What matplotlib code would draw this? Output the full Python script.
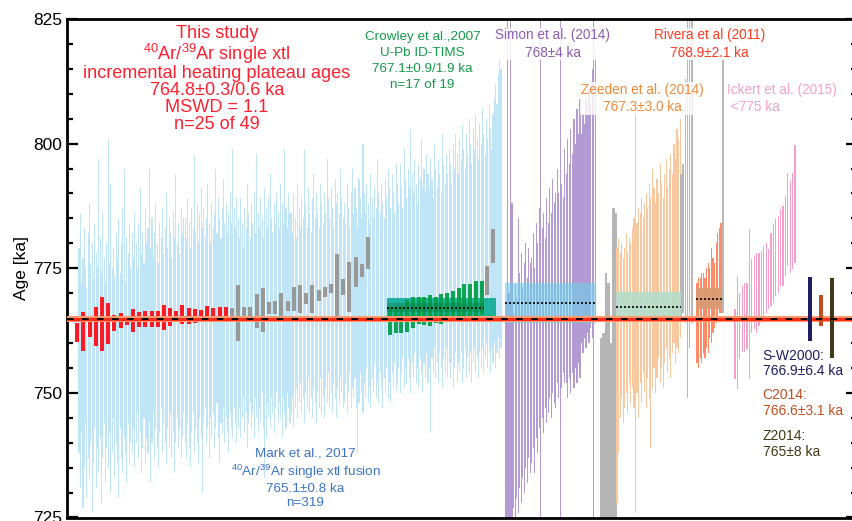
import matplotlib.pyplot as plt
import numpy as np
from matplotlib.ticker import MultipleLocator

plt.rcParams['font.family'] = ['Liberation Sans', 'DejaVu Sans']
plt.rcParams['mathtext.fontset'] = 'custom'
plt.rcParams['mathtext.rm'] = 'Liberation Sans'
plt.rcParams['mathtext.default'] = 'regular'

# --- data (ka) ---
# Mark et al. 2017 single crystal fusion ages, high / low ends of 2 sigma bars
mark_hi = [779, 786, 772, 777, 783, 775, 771, 782, 788, 776, 780, 773, 784, 778, 775, 797, 781, 774, 786, 777,
           772, 780, 801, 776, 792, 775, 779, 773, 782, 777, 785, 774, 780, 787, 795, 772, 781, 778, 784, 775,
           782, 777, 786, 780, 775, 784, 791, 778, 782, 776, 787, 780, 783, 795, 779, 785, 777, 782, 788, 780,
           776, 784, 781, 787, 778, 783, 790, 779, 785, 782, 777, 786, 781, 794, 780, 784, 778, 787, 782, 785,
           785, 781, 789, 784, 779, 787, 783, 798, 782, 788, 780, 786, 791, 783, 787, 781, 785, 792, 784, 780,
           788, 783, 786, 795, 782, 789, 785, 781, 787, 793, 784, 788, 782, 786, 790, 784, 799, 787, 783, 789,
           785, 781, 789, 784, 779, 787, 783, 792, 786, 781, 788, 784, 790, 782, 798, 786, 783, 789, 785, 781,
           791, 787, 783, 789, 794, 785, 782, 788, 784, 790, 786, 783, 792, 788, 784, 799, 787, 783, 790, 786,
           786, 782, 790, 785, 781, 792, 787, 783, 789, 785, 799, 788, 783, 791, 786, 782, 789, 794, 785, 790,
           786, 783, 792, 788, 784, 790, 786, 797, 789, 785, 791, 787, 783, 793, 788, 790, 786, 795, 789, 785,
           788, 784, 792, 787, 783, 790, 795, 786, 791, 787, 783, 793, 789, 785, 800, 790, 786, 792, 788, 784,
           794, 789, 785, 791, 787, 797, 790, 786, 792, 788, 785, 793, 789, 795, 791, 787, 794, 790, 786, 796,
           792, 788, 796, 791, 787, 799, 793, 789, 795, 791, 803, 794, 790, 797, 792, 788, 796, 793, 801, 791,
           795, 790, 798, 794, 791, 797, 793, 789, 800, 795, 791, 797, 794, 790, 802, 796, 792, 798, 794, 799,
           796, 792, 800, 795, 802, 798, 794, 801, 797, 804, 799, 795, 802, 798, 805, 800, 796, 803, 799, 806,
           801, 797, 804, 800, 807, 802, 798, 805, 801, 808, 803, 799, 806, 809, 812, 808, 814, 817, 815]
mark_lo = [738, 731, 742, 727, 735, 744, 729, 737, 733, 740, 726, 736, 743, 731, 739, 734, 741, 728, 737, 744,
           732, 739, 735, 742, 730, 738, 745, 733, 740, 736, 729, 743, 737, 734, 741, 738, 732, 744, 736, 740,
           738, 743, 735, 740, 746, 737, 742, 734, 739, 745, 736, 741, 738, 744, 732, 740, 746, 737, 743, 739,
           735, 742, 747, 738, 744, 740, 736, 743, 739, 746, 737, 742, 734, 740, 745, 739, 743, 737, 741, 746,
           740, 737, 744, 739, 735, 742, 746, 738, 743, 740, 736, 745, 741, 730, 744, 747, 740, 743, 737, 745,
           741, 746, 739, 743, 748, 741, 736, 744, 742, 747, 740, 745, 742, 738, 746, 743, 741, 747, 744, 740,
           743, 747, 741, 745, 749, 742, 746, 739, 744, 748, 743, 746, 741, 749, 745, 742, 747, 744, 750, 743,
           733, 741, 748, 745, 743, 749, 746, 742, 747, 750, 744, 748, 745, 741, 749, 746, 743, 750, 747, 744,
           746, 749, 743, 747, 751, 745, 748, 752, 746, 749, 744, 750, 747, 753, 746, 749, 745, 751, 748, 744,
           750, 747, 753, 746, 749, 745, 751, 748, 754, 747, 750, 746, 752, 749, 745, 751, 748, 753, 750, 747,
           748, 752, 746, 750, 754, 747, 751, 749, 753, 747, 738, 748, 754, 750, 746, 752, 749, 755, 748, 751,
           747, 753, 750, 756, 749, 752, 748, 754, 751, 747, 753, 750, 755, 749, 752, 748, 754, 751, 756, 750,
           752, 755, 750, 754, 757, 751, 755, 752, 757, 753, 750, 756, 753, 758, 752, 755, 751, 757, 754, 750,
           756, 753, 758, 752, 755, 742, 757, 754, 759, 753, 756, 752, 758, 755, 751, 757, 754, 759, 753, 756,
           753, 756, 751, 755, 758, 752, 756, 754, 758, 752, 755, 759, 753, 757, 754, 758, 752, 756, 759, 754,
           757, 753, 758, 755, 759, 754, 757, 760, 755, 758, 754, 759, 756, 760, 755, 758, 761, 757, 759]

# This study: first 25 accepted (red), rest rejected (gray)
study_hi = [764.0, 766.3, 765.0, 767.2, 769.3, 768.1, 765.7, 766.0, 765.5, 766.8, 766.3, 766.4, 766.5,
            766.5, 767.6, 767.0, 766.4, 767.7, 767.1, 766.9, 766.7, 767.5, 767.0, 767.2, 767.2,
            767.0, 771.7, 767.2, 767.2, 769.9, 771.0, 768.2, 768.5, 770.0, 768.5, 771.3, 771.7,
            770.0, 771.7, 770.7, 771.2, 771.8, 777.9, 772.9, 776.2, 777.3, 775.8, 781.3]
study_lo = [760.2, 758.5, 761.2, 759.5, 758.5, 759.9, 762.5, 763.0, 763.7, 762.2, 763.2, 763.2, 763.2,
            763.3, 762.7, 763.5, 764.5, 763.8, 763.8, 764.1, 764.3, 764.2, 765.1, 765.2, 765.2,
            765.0, 760.5, 765.2, 765.2, 763.0, 762.3, 765.9, 765.9, 764.5, 766.5, 766.5, 766.0,
            767.9, 766.1, 768.5, 769.2, 770.0, 764.3, 769.7, 766.3, 771.3, 773.2, 774.8]
study_n_accepted = 25

# Crowley et al. 2007 U-Pb: 17 accepted (green) + 2 rejected (gray)
crowley_hi = [767.3, 767.3, 767.5, 768.7, 769.3, 769.2, 769.2, 769.7, 769.3, 769.9, 770.0, 770.5,
              771.0, 771.8, 771.8, 772.5, 772.5, 775.5, 782.8]
crowley_lo = [761.7, 762.0, 762.0, 762.3, 763.1, 763.9, 763.7, 763.5, 764.0, 763.9, 764.7, 764.5,
              764.7, 764.9, 765.2, 765.5, 765.7, 769.7, 776.0]
crowley_n_accepted = 17

simon_hi = [768, 850, 770, 850, 788, 766, 772, 769, 785, 774, 778, 771, 776, 780, 773, 779, 776, 777, 782, 775,
            784, 780, 787, 850, 783, 786, 781, 789, 784, 791, 786, 793, 788, 790, 795, 790, 850, 792, 789, 799,
            794, 801, 796, 803, 798, 805, 800, 807, 802, 809, 802, 806, 804, 809, 806, 811, 808, 815, 850, 818]
simon_lo = [722, 700, 724, 700, 721, 727, 725, 729, 726, 731, 728, 733, 730, 735, 732, 737, 734, 736, 739, 734,
            741, 738, 743, 700, 745, 742, 747, 744, 746, 749, 745, 750, 748, 747, 752, 749, 700, 751, 754, 752,
            752, 749, 753, 750, 754, 751, 755, 752, 756, 753, 760, 758, 761, 759, 762, 760, 763, 761, 700, 764]

gray_a_hi = [761, 762, 774, 772, 760, 787, 786]
gray_a_lo = [712, 705, 716, 714, 708, 703, 706]

zeeden_hi = [779, 781, 778, 780, 777, 779, 782, 778, 781, 780, 783, 785, 808, 784, 787, 786, 789, 785, 788, 790,
             787, 792, 789, 795, 791, 788, 793, 790, 796, 792, 789, 794, 797, 791, 795, 798, 794, 800, 797, 803,
             801, 805]
zeeden_lo = [728, 738, 745, 749, 744, 747, 750, 746, 752, 748, 751, 747, 726, 750, 745, 752, 748, 754, 750, 747,
             753, 749, 739, 751, 755, 750, 753, 757, 752, 755, 751, 756, 759, 754, 757, 753, 758, 760, 756, 759,
             758, 761]

gray_b_hi = [794, 796, 813, 840, 840, 840]
gray_b_lo = [765, 766, 764, 749, 759, 764]

rivera_hi = [772, 773, 773, 774, 774, 773, 775, 776, 775, 779, 777, 776, 780, 782, 783, 784]
rivera_lo = [756, 755, 757, 756, 758, 757, 759, 758, 761, 760, 762, 763, 764, 765, 766, 766]
gray_c_hi = [817]
gray_c_lo = [766]

ickert_hi = [766.8, 773.5, 770.1, 771.5, 772.1, 772.1, 782.8, 776.8, 777.5, 778.1, 778.1, 778.5, 779.5,
             780.1, 778.8, 782.1, 783.8, 784.8, 785.5, 786.8, 787.5, 789.5, 794.1, 792.8, 794.1, 799.8]
ickert_lo = [752.8, 750.8, 756.8, 758.1, 758.1, 758.8, 752.8, 762.1, 762.8, 762.1, 763.5, 764.1, 764.8,
             766.1, 766.8, 767.5, 768.1, 769.5, 770.1, 771.5, 771.5, 773.5, 775.5, 774.1, 774.8, 776.0]

# weighted means: (mean, internal err, full err)
study_mean = (764.8, 0.3, 0.6)
crowley_mean = (767.1, 0.9, 1.9)
simon_mean = (768.0, 4.0)
zeeden_mean = (767.3, 3.0)
rivera_mean = (768.9, 2.1)

# compilation bars: label, mean, err
others = [('S-W2000', 766.9, 6.4), ('C2014', 766.6, 3.1), ('Z2014', 765.0, 8.0)]
others_colors = ['#1e1d62', '#c24e1f', '#3f3916']

fig = plt.figure(figsize=(8.53, 5.21), dpi=100)
ax = fig.add_axes([67.5 / 853, 3.5 / 521, (857 - 67.5) / 853, (517.5 - 19) / 521])
ax.set_xlim(67.5, 857)
ax.set_ylim(725, 825)


def positions(x0, step, n):
    return x0 + step * np.arange(n)


def draw(xs, hi, lo, color, width, z=2, alpha=1.0):
    hi = np.array(hi, dtype=float)
    lo = np.array(lo, dtype=float)
    ax.bar(xs, hi - lo, bottom=lo, width=width, color=color, linewidth=0, zorder=z, alpha=alpha)


def box(xs, step, lo, hi, color, alpha, z=3):
    ax.fill_between([xs[0] - step / 2, xs[-1] + step / 2], lo, hi, color=color, alpha=alpha,
                    linewidth=0, zorder=z)


def dotted(xs, step, y):
    ax.plot([xs[0] - step / 2, xs[-1] + step / 2], [y, y], color='k', lw=1.2,
            ls=(0, (1.2, 1.2)), zorder=7)


# Mark et al.
xm = positions(79, 1.327, len(mark_hi))
draw(xm, mark_hi, mark_lo, '#bfe5f6', 1.05, z=1)

# this study
xs_st = positions(77.3, 6.185, len(study_hi))
k = study_n_accepted
draw(xs_st[:k], study_hi[:k], study_lo[:k], '#ff1a24', 4.0, z=3)
draw(xs_st[k:], study_hi[k:], study_lo[k:], '#999999', 4.0, z=3)

# Crowley
xc = positions(390, 5.72, len(crowley_hi))
box(xc, 5.72, crowley_mean[0] - crowley_mean[2], crowley_mean[0] + crowley_mean[2], '#15b09a', 0.95, z=2)
k = crowley_n_accepted
draw(xc[:k], crowley_hi[:k], crowley_lo[:k], '#03a04a', 4.0, z=3, alpha=0.95)
draw(xc[k:], crowley_hi[k:], crowley_lo[k:], '#999999', 4.0, z=3)
box(xc[:k], 5.72, crowley_mean[0] - crowley_mean[1], crowley_mean[0] + crowley_mean[1], '#0a7a40', 0.35, z=3.5)
dotted(xc[:k], 5.72, crowley_mean[0])

# Simon
xsi = positions(506, 1.51, len(simon_hi))
draw(xsi, simon_hi, simon_lo, '#b29ad2', 1.1, z=2)
box(xsi, 1.51, simon_mean[0] - simon_mean[1], simon_mean[0] + simon_mean[1], '#6fd0ea', 0.6, z=3)
dotted(xsi, 1.51, simon_mean[0])

# gray before Zeeden
xga = positions(601, 2.5, len(gray_a_hi))
draw(xga, gray_a_hi, gray_a_lo, '#b5b5b5', 2.2)

# Zeeden
xz = positions(617, 1.54, len(zeeden_hi))
draw(xz, zeeden_hi, zeeden_lo, '#f8c9a0', 1.15)
box(xz, 1.54, zeeden_mean[0] - zeeden_mean[1], zeeden_mean[0] + zeeden_mean[1], '#b4dccb', 0.9)
dotted(xz, 1.54, zeeden_mean[0])

xgb = positions(681, 2.2, len(gray_b_hi))
draw(xgb, gray_b_hi, gray_b_lo, '#b8b8b8', 1.4)

# Rivera
xr = positions(697, 1.6, len(rivera_hi))
draw(xr, rivera_hi, rivera_lo, '#ff8a66', 1.1)
box(xr, 1.6, rivera_mean[0] - rivera_mean[1], rivera_mean[0] + rivera_mean[1], '#d99a72', 0.95)
dotted(xr, 1.6, rivera_mean[0])
draw([723], gray_c_hi, gray_c_lo, '#b8b8b8', 1.6)

# Ickert
xi = positions(735, 2.4, len(ickert_hi))
draw(xi, ickert_hi, ickert_lo, '#f4a0cb', 1.1)

# compilation bars
xo = positions(810, 10.85, len(others))
for xx, (name, m, e), c in zip(xo, others, others_colors):
    ax.bar(xx, 2 * e, bottom=m - e, width=4.0, color=c, linewidth=0, zorder=6)

# this study weighted mean band
m, e1, e2 = study_mean
ax.axhspan(m - e2, m + e2, color='#ff9a6c', lw=0, zorder=4)
ax.axhspan(m - e1, m + e1, color='#ff2a1a', lw=0, zorder=4.5)
ax.axhline(m, color='k', lw=1.4, ls=(0, (3.4, 4.3)), zorder=8)

# --- labels ---
ax.text(217, 813, 'This study\n$^{40}$Ar/$^{39}$Ar single xtl\nincremental heating plateau ages\n'
        '764.8±0.3/0.6 ka\nMSWD = 1.1\nn=25 of 49', color='#ff2030', fontsize=13.1,
        ha='center', va='center', linespacing=0.98, zorder=10)
ax.text(422.5, 816.6, 'Crowley et al.,2007\nU-Pb ID-TIMS\n767.1±0.9/1.9 ka\nn=17 of 19',
        color='#16994a', fontsize=9.7, ha='center', va='center', linespacing=1.42, zorder=10)
ax.text(305.5, 732.8, 'Mark et al., 2017\n$^{40}$Ar/$^{39}$Ar single xtl fusion\n765.1±0.8 ka\nn=319',
        color='#3a74c4', fontsize=9.7, ha='center', va='center', linespacing=1.24, zorder=10)

bb = dict(facecolor='white', edgecolor='none', alpha=0.8, pad=0.5)
ax.text(553, 820, 'Simon et al. (2014)\n768±4 ka', color='#8b5db3', fontsize=9.8,
        ha='center', va='center', linespacing=1.3, zorder=10, bbox=bb)
ax.text(709.5, 820, 'Rivera et al (2011)\n768.9±2.1 ka', color='#ff3b22', fontsize=9.8,
        ha='center', va='center', linespacing=1.3, zorder=10, bbox=bb)
ax.text(642.5, 809.1, 'Zeeden et al. (2014)\n767.3±3.0 ka', color='#ef8a3a', fontsize=9.8,
        ha='center', va='center', linespacing=1.3, zorder=10, bbox=bb)
ax.text(727, 809.1, 'Ickert et al. (2015)\n <775 ka', color='#f4a2cc', fontsize=9.8,
        ha='left', va='center', linespacing=1.3, zorder=10, bbox=bb)

label_y = [755.9, 748.0, 739.8]
for (name, m, e), c, yy in zip(others, others_colors, label_y):
    ax.text(762.7, yy, f'{name}:\n{m:g}±{e:g} ka', color=c, fontsize=10, ha='left',
            va='center', linespacing=1.15, zorder=10)

# --- axes styling ---
ax.set_yticks([725, 750, 775, 800, 825])
ax.yaxis.set_minor_locator(MultipleLocator(5))
ax.set_xticks([])
ax.tick_params(axis='y', which='major', direction='in', length=8, width=1.6,
               labelsize=12.5, right=True, pad=4)
ax.tick_params(axis='y', which='minor', direction='in', length=4.5, width=1.6, right=True)
for sp in ax.spines.values():
    sp.set_linewidth(2.0)
ax.set_ylabel('Age [ka]', fontsize=12.5, labelpad=3)

fig.savefig('out.png', dpi=100)
